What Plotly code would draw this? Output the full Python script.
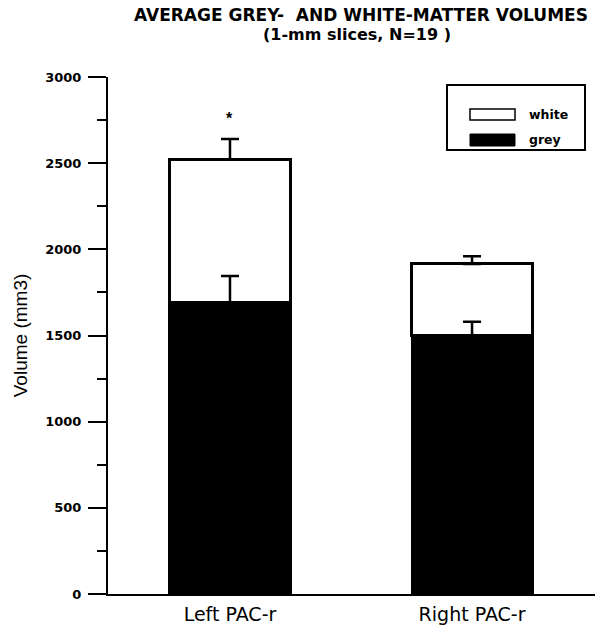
import plotly.graph_objects as go

categories = ["Left PAC-r", "Right PAC-r"]
grey = [1690, 1500]
white = [830, 415]
grey_err = [155, 80]
total_err = [120, 45]
y_ticks = [0, 500, 1000, 1500, 2000, 2500, 3000]

totals = [g + w for g, w in zip(grey, white)]
xpos = [0, 1]

fig = go.Figure()
fig.add_trace(go.Bar(x=xpos, y=grey, name="grey", width=0.5,
                     marker=dict(color="black", line=dict(color="black", width=2))))
fig.add_trace(go.Bar(x=xpos, y=white, name="white", width=0.5,
                     marker=dict(color="white", line=dict(color="black", width=3))))
# error bars (upward only), drawn above the bars
for base, err in ((grey, grey_err), (totals, total_err)):
    fig.add_trace(go.Scatter(x=xpos, y=base, mode="markers", marker=dict(size=1, opacity=0),
                             error_y=dict(type="data", array=err, arrayminus=[0, 0], symmetric=False,
                                          color="black", thickness=2.5, width=9),
                             showlegend=False, hoverinfo="skip"))

sans = "DejaVu Sans, Verdana, sans-serif"
arial = "Liberation Sans, Arial, sans-serif"

# plot area in page pixels: x 108..595, y 77..594
fig.update_layout(
    width=597, height=625,
    margin=dict(l=108, r=2, t=77, b=31),
    barmode="stack",
    plot_bgcolor="white", paper_bgcolor="white",
    showlegend=False,
    font=dict(family=arial, color="black"),
    xaxis=dict(range=[-0.504, 1.508], tickvals=xpos, ticktext=categories, showgrid=False,
               zeroline=False, showline=True, linecolor="black", linewidth=2, ticks="",
               automargin=False,
               tickfont=dict(size=19, family=sans), ticklabelstandoff=2),
    yaxis=dict(range=[0, 3000], tickvals=y_ticks, showgrid=False, zeroline=False,
               showline=True, linecolor="black", linewidth=2, ticks="outside", ticklen=18,
               tickwidth=2, tickcolor="black", automargin=False,
               tickfont=dict(size=13, family=sans, weight="bold"),
               ticklabelstandoff=4,
               minor=dict(dtick=250, ticks="outside", ticklen=9, tickwidth=1.5, tickcolor="black"),
               title=dict(text="Volume (mm3)", font=dict(size=19, family=arial), standoff=13)),
)


def px_x(p):
    return (p - 108) / 487


def px_y(p):
    return (594 - p) / 517


# title (two lines)
fig.add_annotation(text="<b>AVERAGE GREY-  AND WHITE-MATTER VOLUMES</b>", xref="paper", yref="paper",
                   x=px_x(361), y=px_y(15), showarrow=False,
                   font=dict(size=17, family=sans), xanchor="center", yanchor="middle")
fig.add_annotation(text="<b>(1-mm slices, N=19 )</b>", xref="paper", yref="paper",
                   x=px_x(357), y=px_y(34), showarrow=False,
                   font=dict(size=16, family=sans), xanchor="center", yanchor="middle")

# significance asterisk
fig.add_annotation(text="<b>*</b>", x=0, y=totals[0] + total_err[0] + 120, showarrow=False,
                   font=dict(size=16, family=arial), yanchor="middle")

# custom legend
fig.add_shape(type="rect", xref="paper", yref="paper", x0=px_x(447), x1=px_x(585),
              y0=px_y(150), y1=px_y(85), line=dict(color="black", width=2), fillcolor="white")
fig.add_shape(type="rect", xref="paper", yref="paper", x0=px_x(470), x1=px_x(515),
              y0=px_y(120), y1=px_y(109), line=dict(color="black", width=1.5), fillcolor="white")
fig.add_shape(type="rect", xref="paper", yref="paper", x0=px_x(470), x1=px_x(515),
              y0=px_y(146), y1=px_y(134), line=dict(color="black", width=1), fillcolor="black")
fig.add_annotation(text="<b>white</b>", xref="paper", yref="paper", x=px_x(527), y=px_y(114),
                   showarrow=False, xanchor="left", yanchor="middle", font=dict(size=12.5, family=sans))
fig.add_annotation(text="<b>grey</b>", xref="paper", yref="paper", x=px_x(527), y=px_y(139),
                   showarrow=False, xanchor="left", yanchor="middle", font=dict(size=12.5, family=sans))

fig.write_html("out.html", config={"displayModeBar": False},
               post_script="document.body.style.margin='0px';")
